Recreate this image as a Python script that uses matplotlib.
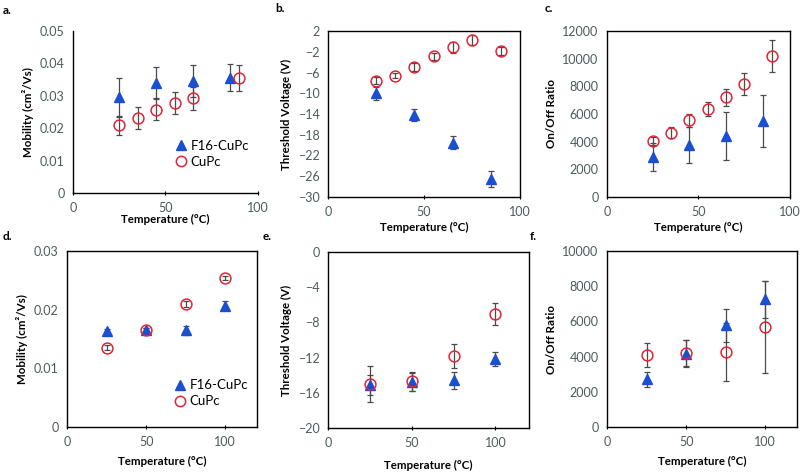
import matplotlib
matplotlib.use("Agg")
import matplotlib.pyplot as plt

plt.rcParams['font.family'] = ['Lato', 'DejaVu Sans']

# ---------- data ----------
# Panel a: mobility
a_f16_x = [25, 45, 65, 85]
a_f16_y = [0.0295, 0.0341, 0.0346, 0.0356]
a_f16_e = [0.0061, 0.0048, 0.0050, 0.0042]
a_cu_x = [25, 35, 45, 55, 65, 90]
a_cu_y = [0.0209, 0.0231, 0.0257, 0.0279, 0.0292, 0.0354]
a_cu_e = [0.0029, 0.0033, 0.0032, 0.0034, 0.0035, 0.0040]

# Panel b: threshold voltage
b_f16_x = [25, 45, 65, 85]
b_f16_y = [-10.0, -14.15, -19.5, -26.5]
b_f16_e = [1.3, 1.2, 1.3, 1.5]
b_cu_x = [25, 35, 45, 55, 65, 75, 90]
b_cu_y = [-7.6, -6.6, -4.9, -2.9, -1.15, 0.3, -1.85]
b_cu_e = [0.7, 0.5, 0.8, 0.7, 1.0, 1.0, 0.7]

# Panel c: on/off ratio
c_f16_x = [25, 45, 65, 85]
c_f16_y = [2900, 3750, 4400, 5500]
c_f16_e = [1000, 1300, 1750, 1850]
c_cu_x = [25, 35, 45, 55, 65, 75, 90]
c_cu_y = [4050, 4660, 5550, 6350, 7200, 8200, 10200]
c_cu_e = [300, 400, 480, 500, 620, 800, 1180]

# Panel d: mobility
d_x = [25, 50, 75, 100]
d_f16_y = [0.0164, 0.0165, 0.0165, 0.0207]
d_f16_e = [0.0003, 0.0004, 0.0008, 0.0008]
d_cu_y = [0.0135, 0.0165, 0.0209, 0.0254]
d_cu_e = [0.0004, 0.0004, 0.0005, 0.0004]

# Panel e: threshold voltage
e_x = [25, 50, 75, 100]
e_f16_y = [-15.1, -14.8, -14.6, -12.2]
e_f16_e = [1.1, 1.0, 1.0, 0.8]
e_cu_y = [-15.0, -14.7, -11.8, -7.05]
e_cu_e = [2.1, 1.1, 1.4, 1.2]

# Panel f: on/off ratio
f_x = [25, 50, 75, 100]
f_f16_y = [2700, 4170, 5780, 7250]
f_f16_e = [450, 750, 930, 1060]
f_cu_y = [4110, 4200, 4280, 5680]
f_cu_e = [680, 740, 1640, 2600]

labels_series = ["F16-CuPc", "CuPc"]
xlabel = "Temperature (°C)"

# ---------- styling ----------
W, H = 803, 476
BLUE = '#1a4fd0'
RED = '#e02535'
ECOL = '#4a4a4a'
TICKC = '#4d5a5a'

fig = plt.figure(figsize=(W / 100, H / 100), dpi=100)


def ax_px(x0, x1, y0, y1):
    return fig.add_axes([x0 / W, 1 - y1 / H, (x1 - x0) / W, (y1 - y0) / H])


def draw(ax, fx, fy, fe, cx, cy, ce):
    ax.errorbar(cx, cy, yerr=ce, fmt='none', ecolor=ECOL, elinewidth=0.9,
                capsize=2, capthick=0.9, zorder=2)
    ax.errorbar(fx, fy, yerr=fe, fmt='none', ecolor=ECOL, elinewidth=0.9,
                capsize=2, capthick=0.9, zorder=2)
    h1, = ax.plot(fx, fy, linestyle='none', marker='^', markersize=7.8,
                  color=BLUE, markeredgecolor=BLUE, zorder=3, label=labels_series[0])
    h2, = ax.plot(cx, cy, linestyle='none', marker='o', markersize=7.8,
                  markerfacecolor='none', markeredgecolor=RED,
                  markeredgewidth=1.1, zorder=4, label=labels_series[1])
    return h1, h2


def style(ax, ylabel, box=True, labelpad_x=2, labelpad_y=4):
    for s in ['left', 'bottom']:
        ax.spines[s].set_color('black')
        ax.spines[s].set_linewidth(1.0)
    for s in ['top', 'right']:
        if box:
            ax.spines[s].set_color('black')
            ax.spines[s].set_linewidth(1.0)
        else:
            ax.spines[s].set_visible(False)
    ax.tick_params(axis='y', length=0, labelsize=9, labelcolor=TICKC, pad=6)
    ax.tick_params(axis='x', length=3, direction='inout', labelsize=9,
                   labelcolor=TICKC, pad=5)
    ax.set_ylabel(ylabel, fontsize=8.3, fontweight='bold', labelpad=labelpad_y)
    ax.set_xlabel(xlabel, fontsize=8.3, fontweight='bold', labelpad=labelpad_x)


# Panel a
ax = ax_px(73, 258, 31, 193)
h1, h2 = draw(ax, a_f16_x, a_f16_y, a_f16_e, a_cu_x, a_cu_y, a_cu_e)
ax.set_xlim(0, 100); ax.set_ylim(0, 0.05)
ax.set_xticks([0, 50, 100]); ax.set_yticks([0, 0.01, 0.02, 0.03, 0.04, 0.05])
ax.set_yticklabels(['0', '0.01', '0.02', '0.03', '0.04', '0.05'])
style(ax, "Mobility (cm²/Vs)", box=False, labelpad_x=0)
ax.legend(handles=[h1, h2], loc='lower right', bbox_to_anchor=(1.0, 0.1),
          frameon=False, fontsize=9.5, handletextpad=0.1, borderpad=0.2,
          labelspacing=0.3, handlelength=1.2, markerscale=0.95)

# Panel b
ax = ax_px(328, 520, 31, 197)
draw(ax, b_f16_x, b_f16_y, b_f16_e, b_cu_x, b_cu_y, b_cu_e)
ax.set_xlim(0, 100); ax.set_ylim(-30, 2)
ax.set_xticks([0, 50, 100]); ax.set_yticks(list(range(-30, 3, 4)))
style(ax, "Threshold Voltage (V)", labelpad_x=3)

# Panel c
ax = ax_px(607, 790, 31, 197)
draw(ax, c_f16_x, c_f16_y, c_f16_e, c_cu_x, c_cu_y, c_cu_e)
ax.set_xlim(0, 100); ax.set_ylim(0, 12000)
ax.set_xticks([0, 50, 100]); ax.set_yticks(list(range(0, 12001, 2000)))
style(ax, "On/Off Ratio", labelpad_x=3)

# Panel d
ax = ax_px(67, 257, 251, 427)
h1, h2 = draw(ax, d_x, d_f16_y, d_f16_e, d_x, d_cu_y, d_cu_e)
ax.set_xlim(0, 120); ax.set_ylim(0, 0.03)
ax.set_xticks([0, 50, 100]); ax.set_yticks([0, 0.01, 0.02, 0.03])
ax.set_yticklabels(['0', '0.01', '0.02', '0.03'])
style(ax, "Mobility (cm²/Vs)", labelpad_x=6)
ax.legend(handles=[h1, h2], loc='lower right', bbox_to_anchor=(1.0, 0.06),
          frameon=False, fontsize=9.5, handletextpad=0.1, borderpad=0.2,
          labelspacing=0.3, handlelength=1.2, markerscale=0.95)

# Panel e
ax = ax_px(328, 529, 252, 428)
draw(ax, e_x, e_f16_y, e_f16_e, e_x, e_cu_y, e_cu_e)
ax.set_xlim(0, 120); ax.set_ylim(-20, 0)
ax.set_xticks([0, 50, 100]); ax.set_yticks([-20, -16, -12, -8, -4, 0])
style(ax, "Threshold Voltage (V)", labelpad_x=8)

# Panel f
ax = ax_px(607, 797, 251, 427)
draw(ax, f_x, f_f16_y, f_f16_e, f_x, f_cu_y, f_cu_e)
ax.set_xlim(0, 120); ax.set_ylim(0, 10000)
ax.set_xticks([0, 50, 100]); ax.set_yticks(list(range(0, 10001, 2000)))
style(ax, "On/Off Ratio", labelpad_x=6)

# panel letters
for txt, x, y in [("a.", 3, 10), ("b.", 275, 9), ("c.", 545, 9),
                  ("d.", 3, 236), ("e.", 263, 236), ("f.", 530, 236)]:
    fig.text(x / W, 1 - y / H, txt, fontsize=8.5, fontweight='bold',
             ha='left', va='center')

fig.savefig("out.png", dpi=100)
